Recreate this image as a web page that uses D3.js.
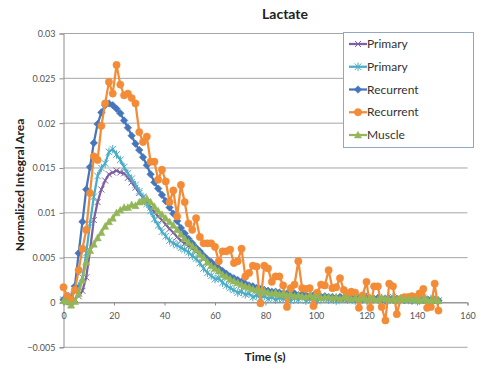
<!DOCTYPE html>
<html>
<head>
<meta charset="utf-8">
<script src="https://cdn.jsdelivr.net/npm/d3@7"></script>
<style>
  body { margin: 0; background: #fff; }
  text { font-family: Lato, "Open Sans", sans-serif; }
</style>
</head>
<body>
<svg id="chart" width="481" height="370"></svg>
<script>
// Sampling times (s)
const time = [
  0,1.5,3,4.5,6,7.5,9,10.5,12,13.5,
  15,16.5,18,19.5,21,22.5,24,25.5,27,28.5,
  30,31.5,33,34.5,36,37.5,39,40.5,42,43.5,
  45,46.5,48,49.5,51,52.5,54,55.5,57,58.5,
  60,61.5,63,64.5,66,67.5,69,70.5,72,73.5,
  75,76.5,78,79.5,81,82.5,84,85.5,87,88.5,
  90,91.5,93,94.5,96,97.5,99,100.5,102,103.5,
  105,106.5,108,109.5,111,112.5,114,115.5,117,118.5,
  120,121.5,123,124.5,126,127.5,129,130.5,132,133.5,
  135,136.5,138,139.5,141,142.5,144,145.5,147,148.5
];

// Normalized integral area per series
const primaryA = [
  0.0002,0.0001,0.0002,0.0004,0.0007,0.0013,0.0028,0.0058,0.0092,0.0112,
  0.0126,0.0136,0.0143,0.0145,0.0147,0.0145,0.0144,0.0139,0.0134,0.0128,
  0.0122,0.0117,0.0112,0.0106,0.0101,0.0096,0.0092,0.0087,0.0082,0.0078,
  0.0073,0.0069,0.0066,0.0063,0.0060,0.0057,0.0053,0.0049,0.0045,0.0042,
  0.0038,0.0035,0.0032,0.0029,0.0026,0.0024,0.0022,0.0020,0.0018,0.0017,
  0.0015,0.0014,0.0013,0.0012,0.0011,0.0010,0.0010,0.0009,0.0008,0.0009,
  0.0007,0.0008,0.0007,0.0006,0.0007,0.0006,0.0005,0.0006,0.0005,0.0006,
  0.0004,0.0005,0.0004,0.0005,0.0004,0.0003,0.0005,0.0004,0.0003,0.0004,
  0.0003,0.0004,0.0003,0.0004,0.0002,0.0003,0.0004,0.0002,0.0003,0.0002,
  0.0004,0.0002,0.0003,0.0002,0.0003,0.0002,0.0003,0.0002,0.0003,0.0002
];
const primaryB = [
  0.0003,0.0005,0.0008,0.0015,0.0018,0.0028,0.0055,0.0088,0.0118,0.0141,
  0.0150,0.0155,0.0168,0.0171,0.0165,0.0159,0.0151,0.0144,0.0138,0.0131,
  0.0124,0.0118,0.0110,0.0102,0.0093,0.0086,0.0079,0.0074,0.0069,0.0066,
  0.0064,0.0061,0.0059,0.0056,0.0052,0.0049,0.0044,0.0038,0.0033,0.0030,
  0.0026,0.0027,0.0022,0.0019,0.0016,0.0014,0.0011,0.0012,0.0009,0.0010,
  0.0006,0.0008,0.0005,0.0007,0.0004,0.0006,0.0003,0.0005,0.0004,0.0006,
  0.0002,0.0005,0.0003,0.0006,0.0002,0.0004,0.0005,0.0002,0.0004,0.0006,
  0.0003,0.0005,0.0002,0.0004,0.0006,0.0003,0.0004,0.0002,0.0005,0.0003,
  0.0006,0.0002,0.0004,0.0003,0.0005,0.0002,0.0004,0.0006,0.0002,0.0004,
  0.0003,0.0005,0.0002,0.0004,0.0003,0.0005,0.0002,0.0004,0.0003,0.0002
];
const recurrentA = [
  0.0003,0.0001,-0.0001,0.0018,0.0055,0.0090,0.0126,0.0151,0.0178,0.0199,
  0.0212,0.0220,0.0222,0.0220,0.0216,0.0211,0.0203,0.0195,0.0186,0.0177,
  0.0170,0.0162,0.0153,0.0143,0.0134,0.0127,0.0120,0.0113,0.0106,0.0099,
  0.0091,0.0083,0.0077,0.0071,0.0066,0.0061,0.0057,0.0052,0.0048,0.0045,
  0.0041,0.0038,0.0035,0.0032,0.0029,0.0027,0.0025,0.0023,0.0021,0.0019,
  0.0018,0.0016,0.0015,0.0014,0.0013,0.0012,0.0012,0.0011,0.0010,0.0010,
  0.0009,0.0010,0.0008,0.0009,0.0008,0.0007,0.0008,0.0007,0.0006,0.0007,
  0.0006,0.0006,0.0005,0.0006,0.0005,0.0006,0.0005,0.0004,0.0005,0.0004,
  0.0005,0.0004,0.0004,0.0005,0.0003,0.0004,0.0004,0.0003,0.0004,0.0003,
  0.0004,0.0003,0.0003,0.0004,0.0002,0.0003,0.0003,0.0002,0.0003,0.0002
];
const recurrentB = [
  0.0017,0.0007,0.0003,0.0014,0.0036,0.0060,0.0081,0.0122,0.0163,0.0159,
  0.0197,0.0222,0.0246,0.0233,0.0265,0.0243,0.0231,0.0233,0.0228,0.0222,
  0.0190,0.0179,0.0185,0.0157,0.0157,0.0137,0.0148,0.0135,0.0112,0.0125,
  0.0096,0.0131,0.0112,0.0088,0.0081,0.0094,0.0073,0.0066,0.0066,0.0066,
  0.0062,0.0046,0.0057,0.0057,0.0059,0.0044,0.0046,0.0060,0.0029,0.0033,
  0.0041,0.0040,-0.0001,0.0041,0.0038,0.0023,0.0029,0.0029,0.0019,-0.0005,
  0.0016,0.0020,0.0046,0.0016,0.0015,0.0016,-0.0004,0.0011,0.0020,0.0019,
  0.0036,0.0016,0.0017,0.0027,0.0014,0.0010,0.0012,0.0011,-0.0006,0.0008,
  0.0023,-0.0006,0.0018,0.0018,-0.0005,-0.0020,0.0021,0.0018,-0.0013,0.0004,
  0.0006,0.0006,0.0007,0.0006,0.0010,0.0015,-0.0006,-0.0005,0.0021,-0.0009
];
const muscle = [
  0.0002,0.0001,-0.0003,0.0001,0.0010,0.0025,0.0045,0.0058,0.0065,0.0072,
  0.0078,0.0085,0.0090,0.0094,0.0100,0.0103,0.0106,0.0106,0.0109,0.0108,
  0.0112,0.0113,0.0116,0.0112,0.0107,0.0102,0.0098,0.0094,0.0090,0.0086,
  0.0081,0.0076,0.0071,0.0067,0.0063,0.0059,0.0054,0.0050,0.0045,0.0041,
  0.0038,0.0035,0.0031,0.0029,0.0026,0.0024,0.0022,0.0020,0.0018,0.0017,
  0.0015,0.0014,0.0012,0.0013,0.0011,0.0010,0.0011,0.0009,0.0010,0.0008,
  0.0009,0.0007,0.0008,0.0007,0.0006,0.0008,0.0006,0.0007,0.0005,0.0006,
  0.0006,0.0005,0.0006,0.0004,0.0006,0.0005,0.0004,0.0005,0.0004,0.0005,
  0.0003,0.0005,0.0004,0.0003,0.0005,0.0004,0.0003,0.0004,0.0003,0.0005,
  0.0003,0.0004,0.0003,0.0004,0.0002,0.0004,0.0003,0.0002,0.0003,0.0002
];

const seriesNames = ["Primary", "Primary", "Recurrent", "Recurrent", "Muscle"];
const xTickValues = [0, 20, 40, 60, 80, 100, 120, 140, 160];
const yTickValues = [-0.005, 0, 0.005, 0.01, 0.015, 0.02, 0.025, 0.03];

const series = [
  { name: seriesNames[0], values: primaryA,   color: "#7D5FA3", marker: "x" },
  { name: seriesNames[1], values: primaryB,   color: "#4BACC6", marker: "star" },
  { name: seriesNames[2], values: recurrentA, color: "#4576BC", marker: "diamond" },
  { name: seriesNames[3], values: recurrentB, color: "#F38B37", marker: "circle" },
  { name: seriesNames[4], values: muscle,     color: "#93B658", marker: "triangle" }
];

const svg = d3.select("#chart");
const x = d3.scaleLinear().domain([0, 160]).range([63.5, 467.5]);
const y = d3.scaleLinear().domain([-0.005, 0.03]).range([347.3, 33.5]);

// Gridlines
svg.append("g")
  .selectAll("line")
  .data(yTickValues)
  .join("line")
  .attr("x1", x(0)).attr("x2", x(160))
  .attr("y1", d => y(d)).attr("y2", d => y(d))
  .attr("stroke", "#A6A6A6").attr("stroke-width", 1);

// Vertical axis
const yAxis = d3.axisLeft(y).tickValues(yTickValues).tickSize(4)
  .tickFormat(d => d === 0 ? "0" : d3.format("")(+d.toFixed(3)));
const gy = svg.append("g").attr("transform", `translate(${x(0)},0)`).call(yAxis);
gy.select(".domain").attr("stroke", "#8C8C8C");
gy.selectAll(".tick line").attr("stroke", "#8C8C8C");
gy.selectAll(".tick text")
  .attr("x", -8)
  .attr("fill", "#555")
  .style("font-size", "9px")
  .style("font-family", "Lato, sans-serif");

// Horizontal axis through zero, labels below
const xAxis = d3.axisBottom(x).tickValues(xTickValues).tickSize(3).tickFormat(d3.format("d"));
const gx = svg.append("g").attr("transform", `translate(0,${y(0)})`).call(xAxis);
gx.select(".domain").attr("stroke", "#8C8C8C");
gx.selectAll(".tick line").attr("stroke", "#8C8C8C");
gx.selectAll(".tick text")
  .attr("y", 10)
  .attr("fill", "#555")
  .style("font-size", "9px")
  .style("font-family", "Lato, sans-serif");

// Marker shapes
function markerPath(type) {
  switch (type) {
    case "x":        return "M-3,-3L3,3M-3,3L3,-3";
    case "star":     return "M-3.3,-3.3L3.3,3.3M-3.3,3.3L3.3,-3.3M0,-4.2L0,4.2";
    case "diamond":  return "M0,-3.8L3.8,0L0,3.8L-3.8,0Z";
    case "triangle": return "M0,-3.8L3.6,3L-3.6,3Z";
    default:         return d3.symbol(d3.symbolCircle, 42)();
  }
}
const strokeOnly = t => t === "x" || t === "star";

const line = d3.line().x((d, i) => x(time[i])).y(d => y(d));
const plot = svg.append("g");
series.forEach(s => {
  const g = plot.append("g");
  g.append("path")
    .attr("d", line(s.values))
    .attr("fill", "none")
    .attr("stroke", s.color)
    .attr("stroke-width", 2.25)
    .attr("stroke-linejoin", "round");
  g.selectAll("path.m")
    .data(s.values)
    .join("path")
    .attr("class", "m")
    .attr("transform", (d, i) => `translate(${x(time[i])},${y(d)})`)
    .attr("d", markerPath(s.marker))
    .attr("fill", strokeOnly(s.marker) ? "none" : s.color)
    .attr("stroke", s.color)
    .attr("stroke-width", strokeOnly(s.marker) ? 1 : 0.5);
});

// Legend
const legend = svg.append("g");
legend.append("rect")
  .attr("x", 343.5).attr("y", 32.5).attr("width", 130).attr("height", 115)
  .attr("fill", "#fff").attr("stroke", "#94A7C2").attr("stroke-width", 1);
series.forEach((s, i) => {
  const ly = 44 + i * 22.75;
  const row = legend.append("g");
  row.append("line")
    .attr("x1", 349).attr("x2", 367).attr("y1", ly).attr("y2", ly)
    .attr("stroke", s.color).attr("stroke-width", 2.25);
  row.append("path")
    .attr("transform", `translate(358,${ly})`)
    .attr("d", markerPath(s.marker))
    .attr("fill", strokeOnly(s.marker) ? "none" : s.color)
    .attr("stroke", s.color)
    .attr("stroke-width", strokeOnly(s.marker) ? 1 : 0.5);
  row.append("text")
    .attr("x", 367).attr("y", ly)
    .attr("dy", "0.35em")
    .attr("fill", "#333")
    .style("font-size", "12px")
    .text(s.name);
});

// Titles
svg.append("text")
  .attr("x", 285).attr("y", 19)
  .attr("text-anchor", "middle")
  .attr("fill", "#222")
  .style("font-size", "14px").style("font-weight", "bold")
  .text("Lactate");
svg.append("text")
  .attr("x", 265).attr("y", 361)
  .attr("text-anchor", "middle")
  .attr("fill", "#222")
  .style("font-size", "12px").style("font-weight", "bold")
  .text("Time (s)");
svg.append("text")
  .attr("transform", "translate(24,185) rotate(-90)")
  .attr("text-anchor", "middle")
  .attr("fill", "#222")
  .style("font-size", "12px").style("font-weight", "bold")
  .text("Normalized Integral Area");
</script>
</body>
</html>
